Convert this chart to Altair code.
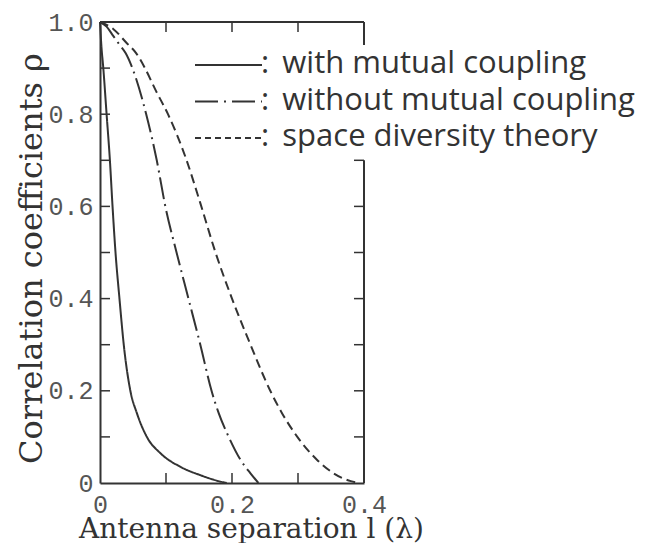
import altair as alt
import pandas as pd

# ---- data ----
series_names = ["with mutual coupling", "without mutual coupling", "space diversity theory"]

sep_with = [0.0, 0.002, 0.005, 0.010, 0.015, 0.019, 0.0235, 0.0295, 0.036, 0.046, 0.056, 0.071, 0.092, 0.122, 0.152, 0.180, 0.192]
rho_with = [1.0, 0.95, 0.90, 0.80, 0.70, 0.60, 0.50, 0.40, 0.30, 0.20, 0.151, 0.10, 0.064, 0.035, 0.017, 0.004, 0.0]

sep_without = [0.0, 0.010, 0.020, 0.030, 0.039, 0.049, 0.070, 0.086, 0.099, 0.116, 0.134, 0.152, 0.169, 0.180, 0.195, 0.213, 0.228, 0.240]
rho_without = [1.0, 0.99, 0.97, 0.95, 0.932, 0.90, 0.80, 0.70, 0.60, 0.50, 0.40, 0.30, 0.20, 0.151, 0.10, 0.05, 0.021, 0.0]

sep_theory = [0.0, 0.020, 0.040, 0.055, 0.067, 0.085, 0.103, 0.130, 0.152, 0.175, 0.200, 0.228, 0.258, 0.276, 0.299, 0.329, 0.354, 0.380, 0.392]
rho_theory = [1.0, 0.985, 0.955, 0.932, 0.903, 0.85, 0.80, 0.705, 0.607, 0.50, 0.40, 0.30, 0.20, 0.151, 0.10, 0.05, 0.021, 0.004, 0.0]

x_tick_labels = [0.0, 0.2, 0.4]
y_tick_labels = [0.0, 0.2, 0.4, 0.6, 0.8, 1.0]
left_minor = [0.1, 0.2, 0.3, 0.4, 0.5, 0.6, 0.7, 0.8, 0.9]
right_minor = [0.1, 0.2, 0.3, 0.4, 0.5, 0.6, 0.7]
x_minor = [0.1, 0.2, 0.3]

# frame pieces (top edge, right edge broken by the legend)
frame_x1 = [0.0, 0.4, 0.4]
frame_x2 = [0.4, 0.4, 0.4]
frame_y1 = [1.0, 1.0, 0.7]
frame_y2 = [1.0, 0.95, 0.0]

# ---- styles ----
curve_dashes = [[1, 0], [22, 5, 2, 5], [9, 5]]
legend_dashes = [[1, 0], [23, 6, 2, 6], [6, 4]]

# ---- tables ----
rows = []
for name, xs, ys in zip(series_names,
                        [sep_with, sep_without, sep_theory],
                        [rho_with, rho_without, rho_theory]):
    for i, (a, b) in enumerate(zip(xs, ys)):
        rows.append({"series": name, "sep": a, "rho": b, "i": i})
df = pd.DataFrame(rows)

frame_df = pd.DataFrame({"x1": frame_x1, "x2": frame_x2, "y1": frame_y1, "y2": frame_y2})
left_df = pd.DataFrame({"v": left_minor})
right_df = pd.DataFrame({"v": right_minor})
xmin_df = pd.DataFrame({"v": x_minor})

W, H = 264, 461
INK = "#333333"
TL = 10

xscale = alt.Scale(domain=[0, 0.4], nice=False, zero=False)
yscale = alt.Scale(domain=[0, 1], nice=False)

label_expr = "datum.value == 0 ? '0' : format(datum.value, '.1f')"

x_axis = alt.Axis(values=x_tick_labels, labelExpr=label_expr, ticks=False, tickSize=0,
                  grid=False, domainColor=INK, domainWidth=2,
                  labelFont="Liberation Mono", labelFontSize=25, labelColor="#555555",
                  labelPadding=9, labelFlush=False,
                  title="Antenna separation l (λ)", titleFont="DejaVu Serif",
                  titleFontSize=28, titleFontWeight="normal", titleColor=INK,
                  titleX=151, titleY=54, titleBaseline="alphabetic", titleAlign="center")
y_axis = alt.Axis(values=y_tick_labels, labelExpr=label_expr, ticks=False, tickSize=0,
                  grid=False, domainColor=INK, domainWidth=2,
                  labelFont="Liberation Mono", labelFontSize=25, labelColor="#555555",
                  labelPadding=7, labelFlush=False,
                  title="Correlation coefficients ρ", titleFont="DejaVu Serif",
                  titleFontSize=32, titleFontWeight="normal", titleColor=INK,
                  titleX=-59, titleY=236, titleBaseline="alphabetic", titleAlign="center",
                  titleAngle=270)

lines = alt.Chart(df).mark_line(color=INK, strokeWidth=2, interpolate="monotone").encode(
    x=alt.X("sep:Q", scale=xscale, axis=x_axis),
    y=alt.Y("rho:Q", scale=yscale, axis=y_axis),
    strokeDash=alt.StrokeDash(
        "series:N",
        scale=alt.Scale(domain=series_names, range=curve_dashes),
        legend=None,
    ),
    order="i:Q",
)

frame = alt.Chart(frame_df).mark_rule(color=INK, strokeWidth=2).encode(
    x=alt.X("x1:Q", scale=xscale, axis=x_axis), x2="x2:Q",
    y=alt.Y("y1:Q", scale=yscale, axis=y_axis), y2="y2:Q",
)

left_ticks = alt.Chart(left_df).mark_rule(color=INK, strokeWidth=1.5).encode(
    y=alt.Y("v:Q", scale=yscale, axis=y_axis), x=alt.value(0), x2=alt.value(TL))
right_ticks = alt.Chart(right_df).mark_rule(color=INK, strokeWidth=1.5).encode(
    y=alt.Y("v:Q", scale=yscale, axis=y_axis), x=alt.value(W - TL), x2=alt.value(W))
bottom_ticks = alt.Chart(xmin_df).mark_rule(color=INK, strokeWidth=1.5).encode(
    x=alt.X("v:Q", scale=xscale, axis=x_axis), y=alt.value(H - TL), y2=alt.value(H))
top_ticks = alt.Chart(xmin_df).mark_rule(color=INK, strokeWidth=1.5).encode(
    x=alt.X("v:Q", scale=xscale, axis=x_axis), y=alt.value(0), y2=alt.value(TL))

# ---- hand-made legend (line sample + ": label") ----
legend_layers = []
for k, (name, pat) in enumerate(zip(series_names, legend_dashes)):
    ly = 43 + 36.5 * k
    d = pd.DataFrame({"label": [name]})
    legend_layers.append(
        alt.Chart(d).mark_rule(color=INK, strokeWidth=2, strokeDash=pat).encode(
            x=alt.value(95), x2=alt.value(162), y=alt.value(ly))
    )
    legend_layers.append(
        alt.Chart(d).transform_calculate(disp="':\u00a0\u2009' + datum.label")
        .mark_text(font="Open Sans", fontSize=31, color=INK, align="left", baseline="alphabetic")
        .encode(x=alt.value(161), y=alt.value(ly + 8.4), text=alt.Text("disp:N"))
    )

chart = alt.layer(lines, frame, left_ticks, right_ticks, bottom_ticks, top_ticks,
                  *legend_layers).properties(
    width=W, height=H,
    autosize=alt.AutoSizeParams(type="none"),
    padding={"left": 92, "top": 14, "right": 280, "bottom": 70},
    background="white",
).configure_view(stroke=None)

chart.save("out.html", embed_options={"renderer": "svg", "actions": False})
